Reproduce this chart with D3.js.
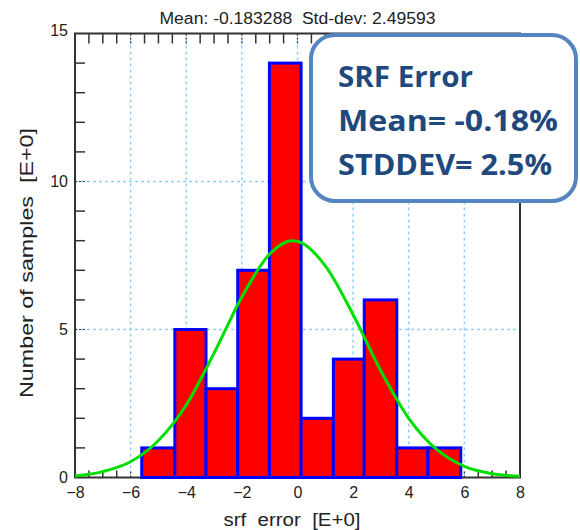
<!DOCTYPE html>
<html>
<head>
<meta charset="utf-8">
<script src="https://cdn.jsdelivr.net/npm/d3@7"></script>
<style>
  body { margin: 0; background: #fff; }
</style>
</head>
<body>
<div id="chart"></div>
<script>
// histogram bins (edges) and counts
var binEdges = [-5.6, -4.41, -3.29, -2.15, -1.01, 0.13, 1.29, 2.4, 3.57, 4.69, 5.87];
var counts = [1, 5, 3, 7, 14, 2, 4, 6, 1, 1];

// fitted normal curve
var fitX = [-8, -7, -6, -5, -4, -3, -2, -1, -0.2, 0, 1, 2, 3, 4, 5, 6, 7, 8];
var fitY = [0.05, 0.2, 0.53, 1.25, 2.45, 4.2, 6.1, 7.55, 8.0, 7.98, 7.15, 5.5, 3.6, 2.0, 0.95, 0.38, 0.13, 0.04];

var xTicks = [-8, -6, -4, -2, 0, 2, 4, 6, 8];
var yTicks = [0, 5, 10, 15];
var gridX = [-6, -4, -2, 0, 2, 4, 6];
var gridY = [5, 10];

var titleText = "Mean: -0.183288  Std-dev: 2.49593";
var xLabel = "srf  error  [E+0]";
var yLabel = "Number of samples  [E+0]";
var boxLines = ["SRF Error", "Mean= -0.18%", "STDDEV= 2.5%"];

var W = 580, H = 530;
var plot = {left: 75, right: 520, top: 33.5, bottom: 477.5};
var sans = "Liberation Sans, Arial, sans-serif";

var svg = d3.select("#chart").append("svg")
  .attr("width", W).attr("height", H);

var x = d3.scaleLinear().domain([-8, 8]).range([plot.left, plot.right]);
var y = d3.scaleLinear().domain([0, 15]).range([plot.bottom, plot.top]);

// grid
var grid = svg.append("g")
  .attr("stroke", "#92d0fa").attr("stroke-width", 1.5).attr("stroke-dasharray", "3,3");
grid.selectAll("line.gx").data(gridX).enter().append("line")
  .attr("x1", function(d){ return x(d); }).attr("x2", function(d){ return x(d); })
  .attr("y1", plot.top).attr("y2", plot.bottom);
grid.selectAll("line.gy").data(gridY).enter().append("line")
  .attr("x1", plot.left).attr("x2", plot.right)
  .attr("y1", function(d){ return y(d); }).attr("y2", function(d){ return y(d); });

// minor ticks (inward)
var minorX = d3.range(-7.5, 8, 0.5).filter(function(v){ return v % 2 !== 0; });
var minorLeft = d3.range(1, 15, 1).filter(function(v){ return v % 5 !== 0; });

var ticks = svg.append("g").attr("stroke", "#333").attr("stroke-width", 1.5);
ticks.selectAll("line.mt").data(minorX).enter().append("line")
  .attr("x1", function(d){ return x(d); }).attr("x2", function(d){ return x(d); })
  .attr("y1", plot.top).attr("y2", plot.top + 10);
ticks.selectAll("line.mb").data(minorX).enter().append("line")
  .attr("x1", function(d){ return x(d); }).attr("x2", function(d){ return x(d); })
  .attr("y1", plot.bottom).attr("y2", plot.bottom - 7);
ticks.selectAll("line.ml").data(minorLeft).enter().append("line")
  .attr("x1", plot.left).attr("x2", plot.left + 10)
  .attr("y1", function(d){ return y(d); }).attr("y2", function(d){ return y(d); });

// major ticks: short dark dashes on the grid lines
var major = svg.append("g").attr("stroke", "#333").attr("stroke-width", 1.2).attr("stroke-dasharray", "2,2");
major.selectAll("line.jt").data(gridX).enter().append("line")
  .attr("x1", function(d){ return x(d); }).attr("x2", function(d){ return x(d); })
  .attr("y1", plot.top).attr("y2", plot.top + 10);
major.selectAll("line.jb").data(gridX).enter().append("line")
  .attr("x1", function(d){ return x(d); }).attr("x2", function(d){ return x(d); })
  .attr("y1", plot.bottom).attr("y2", plot.bottom - 8);
major.selectAll("line.jl").data(gridY).enter().append("line")
  .attr("x1", plot.left).attr("x2", plot.left + 10)
  .attr("y1", function(d){ return y(d); }).attr("y2", function(d){ return y(d); });

// frame
svg.append("rect")
  .attr("x", plot.left).attr("y", plot.top)
  .attr("width", plot.right - plot.left).attr("height", plot.bottom - plot.top)
  .attr("fill", "none").attr("stroke", "#333").attr("stroke-width", 2);

// bars
var bins = counts.map(function(c, i){ return {x0: binEdges[i], x1: binEdges[i + 1], n: c}; });
svg.append("g").selectAll("rect").data(bins).enter().append("rect")
  .attr("x", function(d){ return x(d.x0); })
  .attr("y", function(d){ return y(d.n); })
  .attr("width", function(d){ return x(d.x1) - x(d.x0); })
  .attr("height", function(d){ return y(0) - y(d.n); })
  .attr("fill", "#ff0000").attr("stroke", "#0000ff").attr("stroke-width", 3);

// fitted curve
var line = d3.line()
  .x(function(d){ return x(d[0]); })
  .y(function(d){ return y(d[1]); })
  .curve(d3.curveMonotoneX);
svg.append("path")
  .datum(d3.zip(fitX, fitY))
  .attr("d", line)
  .attr("fill", "none").attr("stroke", "#00e000").attr("stroke-width", 3);

// axis labels
svg.append("g")
  .attr("transform", "translate(0," + (plot.bottom + 9) + ")")
  .call(d3.axisBottom(x).tickValues(xTicks).tickSize(0).tickPadding(0).tickFormat(d3.format("d")))
  .call(function(g){
    g.select(".domain").remove();
    g.selectAll("text").attr("font-size", 16).attr("fill", "#222")
      .attr("font-family", sans).attr("dy", "0.71em");
  });

svg.append("g")
  .attr("transform", "translate(" + (plot.left - 7) + ",0)")
  .call(d3.axisLeft(y).tickValues(yTicks).tickSize(0).tickPadding(0))
  .call(function(g){
    g.select(".domain").remove();
    g.selectAll("text").attr("font-size", 16).attr("fill", "#222")
      .attr("font-family", sans);
  });
// top "15" sits slightly above the frame line
svg.selectAll("g.tick").filter(function(d){ return d === 15; })
  .select("text").attr("dy", "0.1em");

svg.append("text")
  .attr("x", (plot.left + plot.right) / 2).attr("y", 24)
  .attr("text-anchor", "middle").attr("font-family", sans).attr("font-size", 16).attr("fill", "#222")
  .attr("textLength", 276).attr("lengthAdjust", "spacingAndGlyphs")
  .style("white-space", "pre")
  .text(titleText);

svg.append("text")
  .attr("x", 292).attr("y", 526)
  .attr("text-anchor", "middle").attr("font-family", sans).attr("font-size", 18).attr("fill", "#222")
  .attr("textLength", 137).attr("lengthAdjust", "spacingAndGlyphs")
  .style("white-space", "pre")
  .text(xLabel);

svg.append("text")
  .attr("transform", "translate(33,263) rotate(-90)")
  .attr("text-anchor", "middle").attr("font-family", sans).attr("font-size", 18).attr("fill", "#222")
  .attr("textLength", 270).attr("lengthAdjust", "spacingAndGlyphs")
  .style("white-space", "pre")
  .text(yLabel);

// annotation box
svg.append("rect")
  .attr("x", 311).attr("y", 35).attr("width", 265).attr("height", 166)
  .attr("rx", 24).attr("ry", 24)
  .attr("fill", "#fff").attr("stroke", "#5585c0").attr("stroke-width", 4);

svg.append("g").selectAll("text").data(boxLines).enter().append("text")
  .attr("x", 338)
  .attr("y", function(d, i){ return 87 + i * 44; })
  .attr("font-family", "Open Sans, Noto Sans, sans-serif")
  .attr("font-weight", 700).attr("font-size", 29).attr("fill", "#1f497d")
  .attr("textLength", function(d, i){ return [135, 220, 214][i]; })
  .attr("lengthAdjust", "spacingAndGlyphs")
  .text(function(d){ return d; });
</script>
</body>
</html>
